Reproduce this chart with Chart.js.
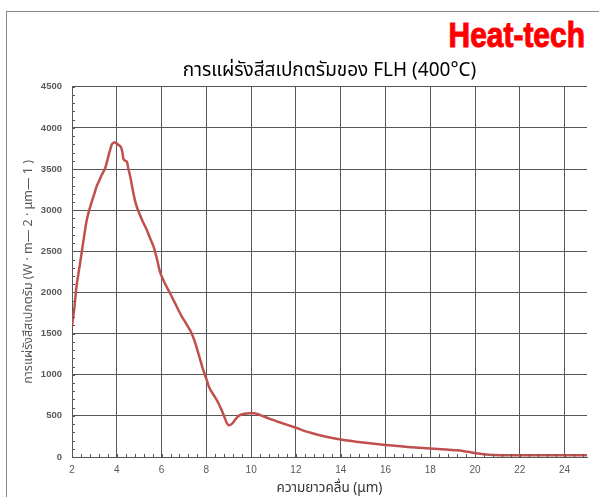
<!DOCTYPE html>
<html>
<head>
<meta charset="utf-8">
<script src="https://cdn.jsdelivr.net/npm/chart.js@4/dist/chart.umd.min.js"></script>
<style>
  html, body { margin: 0; padding: 0; background: #fff; }
  #wrap { position: relative; width: 599px; height: 497px; overflow: hidden; }
  #frame { position: absolute; left: 6px; top: 11px; width: 700px; height: 600px;
           border-left: 1.5px solid #8a8a8a; border-top: 1.5px solid #8a8a8a; }
  #logo { position: absolute; right: 14px; top: 14px; color: #ff0000;
          font-family: "Liberation Sans Narrow", "Liberation Sans", sans-serif;
          font-weight: bold; font-size: 34px; -webkit-text-stroke: 1px #ff0000;
          transform: scale(0.88, 1.05); transform-origin: right top; }
  canvas { position: absolute; left: 0; top: 0; }
</style>
</head>
<body>
<div id="wrap">
  <div id="frame"></div>
  <div id="logo">Heat-tech</div>
  <canvas id="chart" width="599" height="497"></canvas>
</div>
<script>
// wavelength (µm) and spectral radiance
let wavelength = [2.0, 2.1, 2.2, 2.3, 2.43, 2.55, 2.66, 2.77, 2.88, 3.0, 3.1, 3.2, 3.33, 3.48, 3.62, 3.7, 3.78, 3.88, 3.97,
  4.07, 4.18, 4.24, 4.30, 4.38, 4.45, 4.52, 4.60, 4.74, 4.85, 4.97, 5.15, 5.34, 5.5, 5.64, 5.8, 5.94, 6.15, 6.38,
  6.6, 6.9, 7.1, 7.34, 7.5, 7.64, 7.76, 7.86, 8.0, 8.12, 8.24, 8.38, 8.53, 8.68, 8.83, 8.92, 9.0, 9.1, 9.2, 9.32,
  9.48, 9.7, 9.93, 10.2, 10.4, 10.81, 11.3, 12.0, 12.4, 12.74, 13.3, 14.0, 15.0, 16.0, 17.0, 18.0, 18.7, 19.45,
  19.8, 20.04, 20.4, 20.78, 21.5, 22, 23, 24, 25];
let radiance = [1590, 1800, 2070, 2250, 2480, 2700, 2880, 3000, 3100, 3200, 3290, 3350, 3430, 3510, 3650, 3730, 3800, 3825, 3815,
  3796, 3770, 3720, 3620, 3600, 3590, 3500, 3410, 3210, 3080, 2985, 2870, 2760, 2650, 2560, 2400, 2240, 2110, 1990,
  1870, 1710, 1620, 1505, 1390, 1262, 1150, 1058, 950, 850, 790, 730, 660, 570, 470, 410, 385, 395, 420, 465,
  505, 525, 533, 530, 510, 467, 420, 355, 315, 289, 250, 212, 175, 145, 122, 102, 90, 73,
  58, 45, 32, 24, 21, 20, 20, 20, 20];

let xTicks = [2, 4, 6, 8, 10, 12, 14, 16, 18, 20, 22, 24];

let chartTitle = "การแผ่รังสีสเปกตรัมของ FLH (400°C)";
let xTitle = "ความยาวคลื่น (μm)";
let yTitle = "การแผ่รังสีสเปกตรัม (W · m— 2 · μm— 1 )";

let points = wavelength.map((w, i) => ({x: w, y: radiance[i]}));

let gridColor = "#575757";
let textColor = "#595959";
let thaiFont = "'Noto Sans Thai', 'Noto Sans', 'DejaVu Sans', sans-serif";

// small inward ticks between the grid lines
let minorTicks = {
  id: "minorTicks",
  afterDraw(chart) {
    let ctx = chart.ctx, xs = chart.scales.x, ys = chart.scales.y;
    ctx.save();
    ctx.strokeStyle = gridColor;
    ctx.lineWidth = 1;
    ctx.beginPath();
    for (let v = 2; v <= 25.001; v += 0.4) {
      let px = Math.round(xs.getPixelForValue(v)) + 0.5;
      ctx.moveTo(px, ys.bottom);
      ctx.lineTo(px, ys.bottom - 3);
    }
    for (let v = 0; v <= 4500; v += 100) {
      let py = Math.round(ys.getPixelForValue(v)) + 0.5;
      ctx.moveTo(xs.left, py);
      ctx.lineTo(xs.left + 3, py);
    }
    ctx.stroke();
    ctx.restore();
  }
};

new Chart(document.getElementById("chart"), {
  type: "line",
  data: {
    datasets: [{
      data: points,
      borderColor: "#c0504d",
      borderWidth: 2.5,
      pointRadius: 0,
      tension: 0.3,
      fill: false,
    }]
  },
  options: {
    responsive: false,
    animation: false,
    layout: { padding: { left: 0, right: 12, top: 53, bottom: 0 } },
    plugins: {
      legend: { display: false },
      tooltip: { enabled: false },
      title: {
        display: true,
        text: chartTitle,
        fullSize: false,
        color: "#000",
        font: { family: thaiFont, size: 19, weight: "normal" },
        padding: { top: 8, bottom: 3 },
      },
    },
    scales: {
      x: {
        type: "linear",
        min: 2,
        max: 25,
        afterBuildTicks(scale) { scale.ticks = xTicks.map(v => ({value: v})); },
        afterFit(scale) { scale.height = 40; },
        grid: { color: gridColor, drawTicks: false },
        border: { color: gridColor, width: 1 },
        ticks: { color: textColor, padding: 7, maxRotation: 0, font: { family: "'Liberation Sans', sans-serif", size: 10 } },
        title: { display: true, text: xTitle, color: "#333", padding: { top: 2, bottom: 0 },
                 font: { family: thaiFont, size: 13.5 } },
      },
      y: {
        min: 0,
        max: 4500,
        afterFit(scale) { scale.width = 72; },
        grid: { color: gridColor, drawTicks: false },
        border: { color: gridColor, width: 1 },
        ticks: { stepSize: 500, color: textColor, padding: 10, callback: v => String(v),
                 font: { family: "'Liberation Sans', sans-serif", size: 9.5, weight: "bold" } },
        title: { display: true, text: yTitle, color: textColor, padding: { top: 22, bottom: 0 },
                 font: { family: thaiFont, size: 12.5 } },
      },
    },
  },
  plugins: [minorTicks],
});
</script>
</body>
</html>
